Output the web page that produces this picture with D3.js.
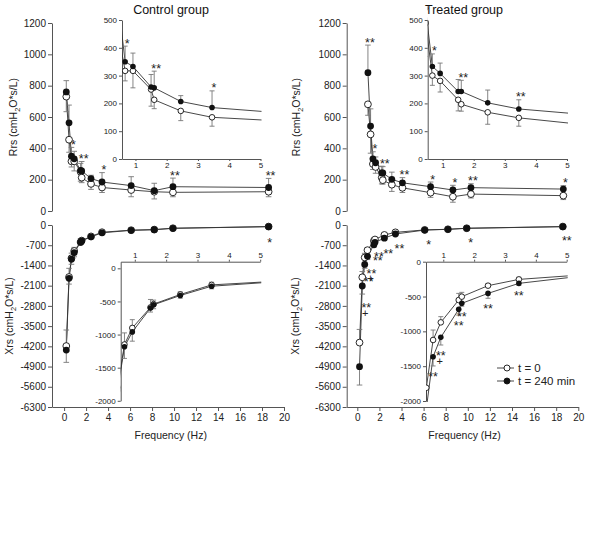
<!DOCTYPE html>
<html>
<head>
<meta charset="utf-8">
<script src="https://cdn.jsdelivr.net/npm/d3@7"></script>
<style>
  body { margin: 0; background: #fff; }
  svg { font-family: "Liberation Sans", Arial, sans-serif; }
  .tick text { fill: #222; }
  .axis path, .axis line { stroke: #555; }
</style>
</head>
<body>
<svg id="chart" width="600" height="537"></svg>
<script>
// Frequencies (Hz), shared by all panels
const freq = [0.2, 0.45, 0.67, 0.92, 1.5, 1.6, 2.45, 3.45, 6.1, 8.2, 9.9, 18.6];

// Control group - Rrs
const ctrlRrsT0 = [730, 455, 317, 317, 250, 213, 173, 150, 134, 123, 119, 123];
const ctrlRrsT0Err = [96, 80, 36, 61, 60, 32, 35, 32, 43, 46, 28, 32];
const ctrlRrsT240 = [760, 563, 350, 333, 259, 256, 207, 185, 162, 130, 155, 150];
const ctrlRrsT240Err = [72, 113, 56, 48, 45, 60, 21, 60, 57, 47, 55, 58];
const ctrlRrsSig = ["", "", "*", "", "", "**", "", "*", "", "", "**", "**"];

// Treated group - Rrs
const trtRrsT0 = [681, 489, 300, 281, 213, 197, 168, 148, 117, 91, 108, 98];
const trtRrsT0Err = [70, 120, 35, 40, 40, 25, 43, 30, 30, 35, 25, 25];
const trtRrsT240 = [883, 542, 333, 308, 243, 243, 202, 180, 155, 134, 149, 140];
const trtRrsT240Err = [176, 110, 45, 37, 43, 40, 46, 33, 30, 30, 25, 22];
const trtRrsSig = ["**", "", "*", "", "", "**", "", "**", "*", "*", "**", "*"];

// Control group - Xrs
const ctrlXrsT0 = [-4190, -1800, -1150, -900, -590, -540, -395, -250, -180, -160, -112, -55];
const ctrlXrsT0Err = [555, 300, 175, 125, 120, 60, 40, 40, 30, 30, 30, 25];
const ctrlXrsT240 = [-4330, -1846, -1185, -960, -600, -550, -410, -270, -184, -162, -115, -58];
const ctrlXrsT240Err = [425, 200, 175, 140, 60, 60, 40, 40, 30, 30, 30, 25];
const ctrlXrsSig = ["", "", "", "", "", "", "", "", "", "", "", "*"];
const ctrlXrsPlus = ["", "", "", "", "", "", "", "", "", "", "", ""];

// Treated group - Xrs
const trtXrsT0 = [-4070, -1810, -1124, -871, -550, -502, -344, -254, -170, -148, -112, -55];
const trtXrsT0Err = [455, 200, 143, 82, 95, 62, 30, 30, 30, 30, 30, 25];
const trtXrsT240 = [-4905, -2111, -1364, -1086, -684, -598, -455, -311, -175, -150, -115, -58];
const trtXrsT240Err = [635, 280, 133, 110, 82, 40, 70, 30, 30, 30, 30, 25];
const trtXrsSig = ["", "**", "**", "**", "**", "**", "**", "**", "*", "", "*", "**"];
const trtXrsPlus = ["", "+", "", "+", "", "", "", "", "", "", "", ""];

// Tick labels
const xTicksMain = [0, 2, 4, 6, 8, 10, 12, 14, 16, 18, 20];
const xTicksInset = [1, 2, 3, 4, 5];
const yTicksRrs = [0, 200, 400, 600, 800, 1000, 1200];
const yTicksXrs = [0, -700, -1400, -2100, -2800, -3500, -4200, -4900, -5600, -6300];
const yTicksInsRrs = [0, 100, 200, 300, 400, 500];
const yTicksInsXrs = [0, -500, -1000, -1500, -2000];
const legendLabels = ["t = 0", "t = 240 min"];

const svg = d3.select("#chart");
const plain = d => String(d);

// Scales
const xMainL = d3.scaleLinear().domain([-1.1, 20]).range([52, 284]);
const xMainR = d3.scaleLinear().domain([-0.96, 20]).range([346.7, 578.3]);
const xTopR = d3.scaleLinear().domain([0, 20]).range([365.8, 578.2]);
const yRrs = d3.scaleLinear().domain([0, 1200]).range([211, 23]);
const yXrs = d3.scaleLinear().domain([-6300, 0]).range([407, 225]);

const xInsRrsL = d3.scaleLinear().domain([0.57, 5]).range([122, 260.5]);
const xInsRrsR = d3.scaleLinear().domain([0.52, 5]).range([427.7, 567]);
const yInsRrs = d3.scaleLinear().domain([0, 500]).range([159, 20]);
const xInsXrsL = d3.scaleLinear().domain([0.55, 5]).range([120.7, 260.2]);
const xInsXrsR = d3.scaleLinear().domain([0.44, 5]).range([426, 566.7]);
const yInsXrsL = d3.scaleLinear().domain([-2000, 100]).range([400.8, 261.7]);
const yInsXrsR = d3.scaleLinear().domain([-2000, 0]).range([401, 261.7]);

// Axis helpers
function leftAxis(x0, y, ticks, size, fs) {
  const g = svg.append("g")
    .attr("class", "axis")
    .attr("transform", `translate(${x0}, 0)`)
    .call(d3.axisLeft(y).tickValues(ticks).tickFormat(plain)
      .tickSize(size).tickSizeOuter(0).tickPadding(2));
  g.selectAll("text").style("font-size", fs + "px");
  return g;
}

function drawData(g, x, y, t0, t0Err, t240, t240Err, dir, r, cap) {
  const line = d3.line()
    .x((d, i) => x(freq[i]))
    .y(d => y(d));

  [t0, t240].forEach(vals => {
    g.append("path")
      .datum(vals)
      .attr("fill", "none")
      .attr("stroke", "#333")
      .attr("stroke-width", 0.9)
      .attr("d", line);
  });

  // error bars: t=0 goes one way, t=240 the other
  [[t0, t0Err, -dir], [t240, t240Err, dir]].forEach(([vals, errs, s]) => {
    const eg = g.append("g").attr("stroke", "#777").attr("stroke-width", 0.9);
    eg.selectAll(null).data(vals).join("line")
      .attr("x1", (d, i) => x(freq[i]))
      .attr("x2", (d, i) => x(freq[i]))
      .attr("y1", d => y(d))
      .attr("y2", (d, i) => y(d + s * errs[i]));
    eg.selectAll(null).data(vals).join("line")
      .attr("x1", (d, i) => x(freq[i]) - cap)
      .attr("x2", (d, i) => x(freq[i]) + cap)
      .attr("y1", (d, i) => y(d + s * errs[i]))
      .attr("y2", (d, i) => y(d + s * errs[i]));
  });

  g.selectAll(null).data(t0).join("circle")
    .attr("cx", (d, i) => x(freq[i]))
    .attr("cy", d => y(d))
    .attr("r", r)
    .attr("fill", "#fff")
    .attr("stroke", "#111")
    .attr("stroke-width", 0.9);

  g.selectAll(null).data(t240).join("circle")
    .attr("cx", (d, i) => x(freq[i]))
    .attr("cy", d => y(d))
    .attr("r", r)
    .attr("fill", "#111");
}

// significance marks above (Rrs) or below (Xrs) the t=240 error bar
function drawSig(g, x, y, vals, errs, dir, sig, plus, dx, gap) {
  g.selectAll(null).data(vals).join("text")
    .attr("x", (d, i) => x(freq[i]) + dx)
    .attr("y", (d, i) => dir > 0 ? y(d + errs[i]) - gap + 7.5 : y(d - errs[i]) + gap + 7)
    .attr("text-anchor", "middle")
    .style("font-size", "12.5px")
    .attr("fill", "#222")
    .text((d, i) => sig[i]);
  if (!plus) return;
  g.selectAll(null).data(vals).join("text")
    .attr("x", (d, i) => x(freq[i]) + dx - 1)
    .attr("y", (d, i) => y(d - errs[i]) + gap + 11.5)
    .attr("text-anchor", "middle")
    .style("font-size", "11px")
    .attr("fill", "#222")
    .text((d, i) => plus[i]);
}

function clipBox(id, x0, y0, x1, y1) {
  svg.append("clipPath").attr("id", id)
    .append("rect")
    .attr("x", x0).attr("y", y0)
    .attr("width", x1 - x0).attr("height", y1 - y0);
}

function yTitle(x, y, name) {
  const t = svg.append("text")
    .attr("transform", `translate(${x}, ${y}) rotate(-90)`)
    .attr("text-anchor", "middle")
    .style("font-size", "10.5px")
    .attr("fill", "#222");
  t.append("tspan").text(name + " (cmH");
  t.append("tspan").attr("dy", 3).style("font-size", "7.5px").text("2");
  t.append("tspan").attr("dy", -3).text("O*s/L)");
}

// Titles
svg.append("text").attr("x", 171).attr("y", 14).attr("text-anchor", "middle")
  .style("font-size", "12.5px").attr("fill", "#111").text("Control group");
svg.append("text").attr("x", 464).attr("y", 14).attr("text-anchor", "middle")
  .style("font-size", "12.5px").attr("fill", "#111").text("Treated group");

yTitle(17, 117, "Rrs");
yTitle(300, 117, "Rrs");
yTitle(13, 316, "Xrs");
yTitle(299, 316, "Xrs");

// ---- Main panels ----
leftAxis(52, yRrs, yTicksRrs, 4, 10);
leftAxis(346.7, yRrs, yTicksRrs, 4, 10);
leftAxis(52, yXrs, yTicksXrs, 4, 10);
leftAxis(346.7, yXrs, yTicksXrs, 4, 10);

[xMainL, xMainR].forEach(x => {
  const g = svg.append("g")
    .attr("class", "axis")
    .attr("transform", "translate(0, 407)")
    .call(d3.axisBottom(x).tickValues(xTicksMain).tickFormat(plain)
      .tickSize(4).tickSizeOuter(0).tickPadding(3));
  g.selectAll("text").style("font-size", "10px");
  svg.append("text")
    .attr("x", x(9.7)).attr("y", 439)
    .attr("text-anchor", "middle")
    .style("font-size", "10.5px")
    .attr("fill", "#222")
    .text("Frequency (Hz)");
});

const gCR = svg.append("g");
drawData(gCR, xMainL, yRrs, ctrlRrsT0, ctrlRrsT0Err, ctrlRrsT240, ctrlRrsT240Err, 1, 3.4, 2.8);
drawSig(gCR, xMainL, yRrs, ctrlRrsT240, ctrlRrsT240Err, 1, ctrlRrsSig, null, 2, 6);

const gTR = svg.append("g");
drawData(gTR, xTopR, yRrs, trtRrsT0, trtRrsT0Err, trtRrsT240, trtRrsT240Err, 1, 3.4, 2.8);
drawSig(gTR, xTopR, yRrs, trtRrsT240, trtRrsT240Err, 1, trtRrsSig, null, 2, 6);

const gCX = svg.append("g");
drawData(gCX, xMainL, yXrs, ctrlXrsT0, ctrlXrsT0Err, ctrlXrsT240, ctrlXrsT240Err, -1, 3.4, 2.8);
drawSig(gCX, xMainL, yXrs, ctrlXrsT240, ctrlXrsT240Err, -1, ctrlXrsSig, ctrlXrsPlus, 1, 13);

const gTX = svg.append("g");
drawData(gTX, xMainR, yXrs, trtXrsT0, trtXrsT0Err, trtXrsT240, trtXrsT240Err, -1, 3.4, 2.8);
drawSig(gTX, xMainR, yXrs, trtXrsT240, trtXrsT240Err, -1, trtXrsSig, trtXrsPlus, 4, 11);

// ---- Insets (only points that fall inside the inset get marks) ----
function inInset(x, y, vals, arr) {
  const [y0, y1] = y.domain();
  return arr.map((s, i) =>
    freq[i] >= x.domain()[0] && freq[i] <= 5 && vals[i] >= y0 && vals[i] <= y1 ? s : "");
}

function insetRrs(x, y, t0, t0Err, t240, t240Err, sig, id) {
  leftAxis(x.range()[0], y, yTicksInsRrs, 3, 8);
  const gx = svg.append("g")
    .attr("class", "axis")
    .attr("transform", `translate(0, ${y(0)})`)
    .call(d3.axisBottom(x).tickValues(xTicksInset).tickFormat(plain)
      .tickSize(2).tickSizeOuter(0).tickPadding(1));
  gx.selectAll("text").style("font-size", "8px");
  clipBox(id, x.range()[0], 5, x.range()[1] + 1, y(0));
  const g = svg.append("g").attr("clip-path", `url(#${id})`);
  drawData(g, x, y, t0, t0Err, t240, t240Err, 1, 2.8, 2.5);
  drawSig(svg.append("g"), x, y, t240, t240Err, 1, inInset(x, y, t240, sig), null, 2, 6);
}

function insetXrs(x, y, t0, t0Err, t240, t240Err, sig, plus, id) {
  leftAxis(x.range()[0], y, yTicksInsXrs, 3, 8);
  const top = y.range()[1];
  const gx = svg.append("g")
    .attr("class", "axis")
    .attr("transform", `translate(0, ${top})`)
    .call(d3.axisTop(x).tickValues(xTicksInset).tickFormat(plain)
      .tickSize(2).tickSizeOuter(0).tickPadding(2));
  gx.selectAll("text").style("font-size", "8px");
  clipBox(id, x.range()[0], top, x.range()[1] + 1, y.range()[0] + 1);
  const g = svg.append("g").attr("clip-path", `url(#${id})`);
  drawData(g, x, y, t0, t0Err, t240, t240Err, -1, 2.8, 2.5);
  drawSig(svg.append("g"), x, y, t240, t240Err, -1,
    inInset(x, y, t240, sig), inInset(x, y, t240, plus), 0, 8);
}

insetRrs(xInsRrsL, yInsRrs, ctrlRrsT0, ctrlRrsT0Err, ctrlRrsT240, ctrlRrsT240Err, ctrlRrsSig, "clipA");
insetRrs(xInsRrsR, yInsRrs, trtRrsT0, trtRrsT0Err, trtRrsT240, trtRrsT240Err, trtRrsSig, "clipB");
insetXrs(xInsXrsL, yInsXrsL, ctrlXrsT0, ctrlXrsT0Err, ctrlXrsT240, ctrlXrsT240Err, ctrlXrsSig, ctrlXrsPlus, "clipC");
insetXrs(xInsXrsR, yInsXrsR, trtXrsT0, trtXrsT0Err, trtXrsT240, trtXrsT240Err, trtXrsSig, trtXrsPlus, "clipD");

// ---- Legend ----
const legend = svg.append("g").attr("transform", "translate(497, 368)");
legendLabels.forEach((label, i) => {
  const yy = i * 13;
  legend.append("line")
    .attr("x1", 0).attr("x2", 17).attr("y1", yy).attr("y2", yy)
    .attr("stroke", "#333").attr("stroke-width", 0.9);
  legend.append("circle")
    .attr("cx", 10).attr("cy", yy).attr("r", 3)
    .attr("fill", i === 0 ? "#fff" : "#111")
    .attr("stroke", "#111").attr("stroke-width", 0.9);
  legend.append("text")
    .attr("x", 21).attr("y", yy + 4)
    .style("font-size", "11.5px")
    .attr("fill", "#222")
    .text(label);
});
</script>
</body>
</html>
